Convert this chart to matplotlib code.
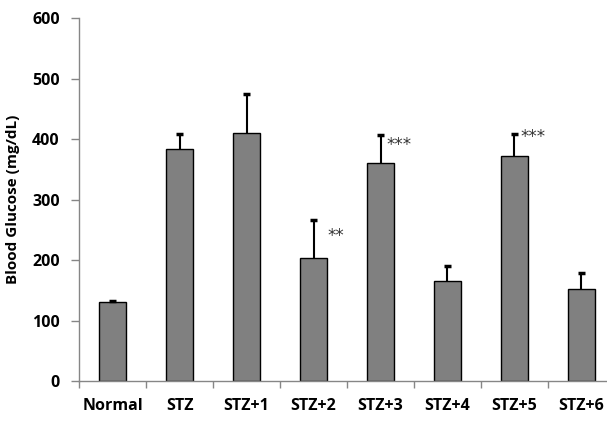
import matplotlib
matplotlib.use('Agg')
import matplotlib.pyplot as plt
import numpy as np

# data
groups = ['Normal', 'STZ', 'STZ+1', 'STZ+2', 'STZ+3', 'STZ+4', 'STZ+5', 'STZ+6']
glucose = [130, 384, 410, 204, 360, 165, 372, 153]
sem = [2, 24, 65, 62, 47, 26, 37, 25]
stars = ['', '', '', '**', '***', '', '***', '']
star_y = [0, 0, 0, 240, 390, 0, 404, 0]

plt.rcParams['font.family'] = ['Open Sans', 'DejaVu Sans']

fig = plt.figure(figsize=(6.07, 4.28), dpi=100)
ax = fig.add_axes([79.3 / 607, 1 - 381 / 428, 535.5 / 607, 362.7 / 428])

x = np.arange(len(groups))
top = np.array(glucose) + np.array(sem)
ax.bar(x, glucose, width=0.40, color='#808080', edgecolor='black', linewidth=1.0, zorder=2)
# upper error bars only
ax.vlines(x, glucose, top, color='black', linewidth=1.5, zorder=3)
ax.hlines(top, x - 0.05, x + 0.05, color='black', linewidth=2.5, zorder=3)

for i, s in enumerate(stars):
    if s:
        off = 0.21 if len(s) == 2 else 0.09
        ax.text(i + off, star_y[i], s, fontsize=12, family='DejaVu Sans',
                ha='left', va='center', color='#333333')

ax.set_xlim(-0.5, len(groups) - 0.5)
ax.set_ylim(0, 600)
ax.set_yticks(range(0, 601, 100))
ax.set_xticks(x)
ax.set_xticklabels(groups, fontsize=11.5, fontweight='bold')
ax.set_xticks(np.arange(-0.5, len(groups), 1), minor=True)
ax.tick_params(axis='x', which='major', length=0, pad=12)
ax.tick_params(axis='x', which='minor', length=5, color='#868686', width=1)
ax.tick_params(axis='y', length=6, color='#868686', width=1, pad=8, labelsize=11.5)
for lab in ax.get_yticklabels():
    lab.set_fontweight('bold')

for sp in ['top', 'right']:
    ax.spines[sp].set_visible(False)
for sp in ['left', 'bottom']:
    ax.spines[sp].set_color('#868686')
    ax.spines[sp].set_linewidth(1)

ax.set_ylabel('Blood Glucose (mg/dL)', fontsize=11, fontweight='bold')
ax.yaxis.set_label_coords(-59 / 535.5, 0.5)

fig.savefig('out.png', dpi=100)
